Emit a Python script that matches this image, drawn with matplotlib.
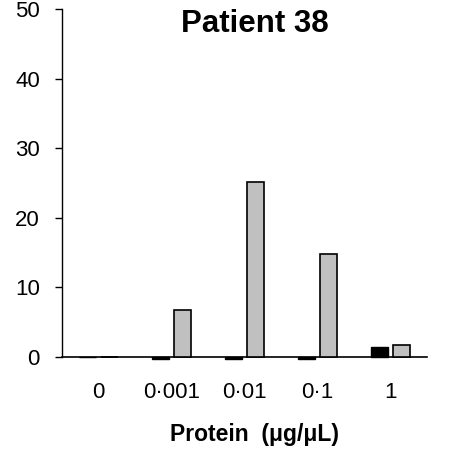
import matplotlib
matplotlib.use("Agg")
import matplotlib.pyplot as plt
import numpy as np

categories = ["0", "0·001", "0·01", "0·1", "1"]
black_vals = [0.0, -0.3, -0.3, -0.3, 1.4]
grey_vals = [0.0, 6.8, 25.1, 14.8, 1.7]
yticks = [0, 10, 20, 30, 40, 50]

plt.rcParams['font.family'] = ['Liberation Sans', 'DejaVu Sans']

fig = plt.figure(figsize=(4.52, 4.55), dpi=100)
ax = fig.add_axes([62/452, 1-357/455, 365/452, 348/455])

x = np.arange(len(categories))
w = 0.235
off = 0.15
bb = ax.bar(x - off, black_vals, w, color='black', edgecolor='black', linewidth=1.0, zorder=3)
gb = ax.bar(x + off, grey_vals, w, color='#c0c0c0', edgecolor='black', linewidth=1.2, zorder=3)
for p in list(bb) + list(gb):
    p.set_clip_on(False)

ax.set_xlim(-0.5, 4.5)
ax.set_ylim(0, 50)
ax.set_yticks(yticks)
ax.set_xticks(x)
ax.set_xticklabels(categories)
ax.tick_params(axis='x', length=0, pad=18, labelsize=16)
ax.tick_params(axis='y', length=5, width=1, direction='out', pad=11, labelsize=16)
ax.spines['top'].set_visible(False)
ax.spines['right'].set_visible(False)
ax.spines['bottom'].set_position(('data', 0))
ax.spines['bottom'].set_linewidth(1.2)
ax.spines['left'].set_linewidth(1)

fig.text(255/452, 1-24/455, "Patient 38", ha='center', va='center', fontsize=22.5, fontweight='bold')
fig.text(255/452, 1-435/455, "Protein  (μg/μL)", ha='center', va='center', fontsize=16.5, fontweight='bold')

fig.savefig("out.png", dpi=100)
